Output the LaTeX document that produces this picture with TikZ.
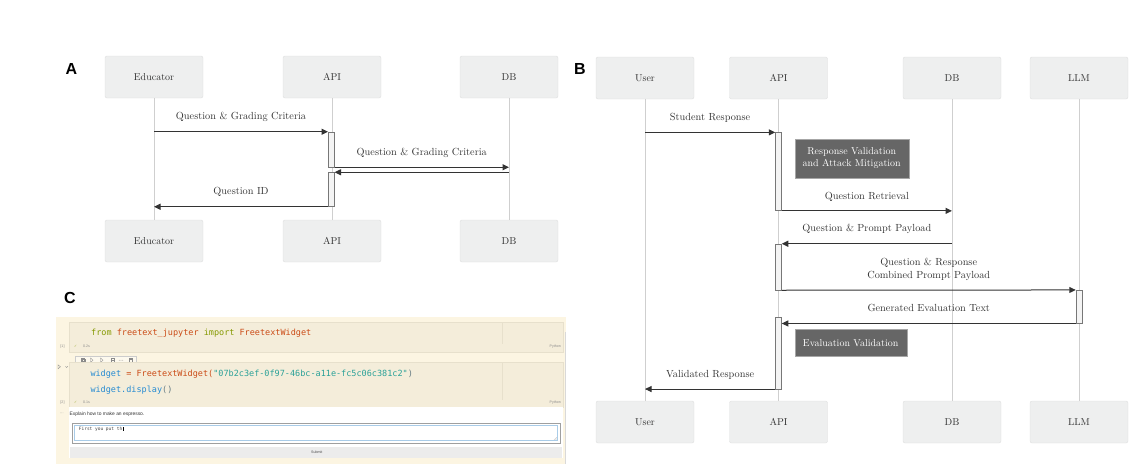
\documentclass[tikz,border=0pt]{standalone}
\usepackage{fontspec}
\usepackage{xcolor}
\usetikzlibrary{arrows.meta,positioning}

\newfontfamily\tagfont{Liberation Sans}
\newfontfamily\uifont{Liberation Sans}
\newfontfamily\codefont{DejaVu Sans Mono}
\newfontfamily\symfont{DejaVu Sans}

\definecolor{actorfill}{HTML}{EEEFEF}
\definecolor{actorline}{HTML}{DEDFDF}
\definecolor{lifegray}{HTML}{CFCFCF}
\definecolor{msggray}{HTML}{333333}
\definecolor{labeltext}{HTML}{333333}
\definecolor{barfill}{HTML}{F4F4F4}
\definecolor{bargray}{HTML}{777777}
\definecolor{notefill}{HTML}{666666}
\definecolor{nbback}{HTML}{FCF5E2}
\definecolor{cellfill}{HTML}{F4EDDA}
\definecolor{cellline}{HTML}{E7E0CC}
\definecolor{solgreen}{HTML}{859900}
\definecolor{solorange}{HTML}{CB4B16}
\definecolor{solcyan}{HTML}{2AA198}
\definecolor{solblue}{HTML}{268BD2}
\definecolor{solbase}{HTML}{657B83}
\definecolor{uigray}{HTML}{8A8A8A}
\definecolor{fieldblue}{HTML}{A9CCE8}

\tikzset{
  actor/.style={draw=actorline, fill=actorfill, rounded corners=2pt,
    minimum width=98pt, minimum height=42pt, text=labeltext,
    font=\fontsize{10}{12}\selectfont},
  lifeline/.style={draw=lifegray, line width=0.8pt},
  msg/.style={draw=msggray, line width=1pt, -{Triangle[length=6.5pt,width=6pt]}},
  msglabel/.style={text=labeltext, font=\fontsize{10.3}{13}\selectfont,
    text height=7pt, text depth=2pt, align=center},
  actbar/.style={draw=bargray, fill=barfill, line width=0.5pt,
    minimum width=6pt, inner sep=0pt},
  notebox/.style={draw=gray!70, fill=notefill, text=white, align=center,
    font=\fontsize{10}{12.5}\selectfont, anchor=north west, inner sep=0pt},
  paneltag/.style={font=\tagfont\bfseries\fontsize{16}{16}\selectfont},
  codeline/.style={anchor=west, inner sep=0pt, font=\codefont\fontsize{8.5}{10}\selectfont},
  uitext/.style={inner sep=0pt, text=uigray, font=\uifont\fontsize{3.6}{4}\selectfont},
}

\begin{document}
\begin{tikzpicture}[x=1pt, y=-1pt]
\useasboundingbox (0,0) rectangle (1143,474);

% ---------- A
\node[paneltag] (tagA) at (71.5,69) {A};
\node[actor] (eduT) at (154,77) {Educator};
\node[actor] (apiT) at (332,77) {API};
\node[actor] (dbT)  at (509,77) {DB};
\node[actor] (eduB) at (154,241) {Educator};
\node[actor] (apiB) at (332,241) {API};
\node[actor] (dbB)  at (509,241) {DB};
\draw[lifeline] (eduT) -- (eduB);
\draw[lifeline] (apiT) -- (apiB);
\draw[lifeline] (dbT) -- (dbB);
\node[actbar, minimum height=35pt] (aact1) at (331.3,149.5) {};
\node[actbar, minimum height=34pt] (aact2) at (331.3,189.5) {};
\draw[msg] (eduT |- aact1.north) -- (aact1.north west)
  node[midway, above=6pt, msglabel] {Question \& Grading Criteria};
\draw[msg] (aact1.south east) -- (dbT |- aact1.south)
  node[midway, above=6pt, msglabel] {Question \& Grading Criteria};
\draw[msg] (dbT |- aact2.north) -- (aact2.north east);
\draw[msg] (aact2.south west) -- (eduT |- aact2.south)
  node[midway, above=6pt, msglabel] {Question ID};

% ---------- B
\node[paneltag] (tagB) at (580,69) {B};
\begin{scope}[every node/.append style={minimum width=96pt, minimum height=41pt}]
\node[actor] (userT) at (645,78) {User};
\node[actor] (bapiT) at (778.5,78) {API};
\node[actor] (bdbT)  at (952,78) {DB};
\node[actor] (llmT)  at (1079,78) {LLM};
\node[actor] (userB) at (645,422) {User};
\node[actor] (bapiB) at (778.5,422) {API};
\node[actor] (bdbB)  at (952,422) {DB};
\node[actor] (llmB)  at (1079,422) {LLM};
\end{scope}
\draw[lifeline] (userT) -- (userB);
\draw[lifeline] (bapiT) -- (bapiB);
\draw[lifeline] (bdbT) -- (bdbB);
\draw[lifeline] (llmT) -- (llmB);
\node[actbar, minimum height=78pt] (bact1) at (778.5,171.6) {};
\node[actbar, minimum height=46pt] (bact2) at (778.5,267) {};
\node[actbar, minimum height=72pt] (bact3) at (778.5,352.8) {};
\node[actbar, minimum height=33pt] (lact1) at (1079,306.7) {};
\node[notebox, minimum width=114pt, minimum height=39pt] (note1) at (794.5,138.5)
  {Response Validation\\and Attack Mitigation};
\node[notebox, minimum width=112pt, minimum height=27pt] (note2) at (794.5,329.3)
  {Evaluation Validation};
\draw[msg] (userT |- bact1.north) -- (bact1.north west)
  node[midway, above=6pt, msglabel] {Student Response};
\draw[msg] (bact1.south east) -- (bdbT |- bact1.south)
  node[midway, above=6pt, msglabel] {Question Retrieval};
\draw[msg] (bdbT |- bact2.north) -- (bact2.north east)
  node[midway, above=6pt, msglabel] {Question \& Prompt Payload};
\draw[msg] (bact2.south east) -- (lact1.north west)
  node[midway, above=6pt, msglabel] {Question \& Response\\Combined Prompt Payload};
\draw[msg] (lact1.south west) -- (bact3.east |- lact1.south)
  node[midway, above=6pt, msglabel] {Generated Evaluation Text};
\draw[msg] (bact3.south west) -- (userT |- bact3.south)
  node[midway, above=6pt, msglabel] {Validated Response};

% ---------- C
\node[paneltag] (tagC) at (70,298) {C};
\fill[nbback] (56,317) rectangle (566,464);
\draw[gray!30, line width=0.4pt] (565,332) -- (565,464);
% cell 1
\draw[cellline, fill=cellfill, line width=0.4pt] (69,322.5) rectangle (563,352);
\draw[cellline, line width=0.4pt] (501.7,322.5) -- (501.7,344);
\node[codeline] (code1) at (91,333.5) {\textcolor{solgreen}{from} \textcolor{solorange}{freetext\_jupyter} \textcolor{solgreen}{import} \textcolor{solorange}{FreetextWidget}};
\node[uitext] (num1) at (62.5,346.7) {[1]};
\node[uitext, anchor=west, text=solgreen!80] (ok1) at (74,346.7) {\symfont ✓};
\node[uitext, anchor=west] (time1) at (83,346.7) {0.2s};
\node[uitext, anchor=east] (py1) at (561,346.7) {Python};
% toolbar
\draw[gray!40, fill=nbback!60!white, line width=0.4pt] (75,356) rectangle (136,364.5);
\begin{scope}[uigray, line width=0.35pt]
\draw (81.5,358.3) rectangle (84,360.8);
\draw (82.5,359.3) rectangle (85,361.8);
\draw (90.5,358) -- (93,360.2) -- (90.5,362.4) -- cycle;
\draw (100.5,358) -- (103,360.2) -- (100.5,362.4) -- cycle;
\draw (110.8,358) rectangle (114,362.4);
\draw (110.8,360.2) -- (114,360.2);
\fill (119.3,360.2) circle (0.4) (121,360.2) circle (0.4) (122.7,360.2) circle (0.4);
\draw (129.5,358.9) rectangle (132,362.4);
\draw (129,358.3) -- (132.5,358.3);
\end{scope}
\draw[uigray, line width=0.35pt] (58,364.8) -- (60.5,366.8) -- (58,368.8) -- cycle;
\draw[uigray, line width=0.35pt] (65.5,366.3) -- (66.7,367.5) -- (67.9,366.3);
% cell 2
\draw[cellline, fill=cellfill, line width=0.4pt] (69,362.5) rectangle (563,406.8);
\draw[cellline, line width=0.4pt] (501.7,362.5) -- (501.7,399.5);
\node[codeline] (code2) at (90.3,374.3) {\textcolor{solblue}{widget} \textcolor{solorange}{= FreetextWidget(}\textcolor{solcyan}{"07b2c3ef-0f97-46bc-a11e-fc5c06c381c2"}\textcolor{solbase}{)}};
\node[codeline] (code3) at (90.3,390.3) {\textcolor{solblue}{widget.display}\textcolor{solbase}{()}};
\node[uitext] (num2) at (62.5,402.7) {[2]};
\node[uitext, anchor=west, text=solgreen!80] (ok2) at (74,402.7) {\symfont ✓};
\node[uitext, anchor=west] (time2) at (83,402.7) {0.1s};
\node[uitext, anchor=east] (py2) at (561,402.7) {Python};
% widget output
\fill[white] (69,407.3) rectangle (563,457.7);
\node[uitext] (dots) at (62,413.5) {\symfont ⋯};
\node[uitext, anchor=west, text=black!80, font=\uifont\fontsize{4.9}{5}\selectfont] (prompt) at (69.5,414) {Explain how to make an espresso.};
\draw[gray!75, line width=0.6pt] (72,423.3) rectangle (560,443.3);
\draw[fieldblue, line width=0.7pt] (74.7,425.7) rectangle (557.5,440.7);
\draw[gray!60, line width=0.3pt] (554,440) -- (556.8,437.2) (555.5,440) -- (556.8,438.7);
\node[anchor=west, inner sep=0pt, text=black!75, font=\codefont\fontsize{4.5}{5}\selectfont] (answer) at (78.7,429.5) {First you put th};
\draw[black, line width=0.3pt] (answer.north east) ++(0.6,0) -- ++(0,3.6);
\fill[gray!15] (70,446.7) rectangle (561.7,457.7);
\node[uitext, text=black!70] (submit) at (316.7,452.2) {Submit};
\end{tikzpicture}
\end{document}
